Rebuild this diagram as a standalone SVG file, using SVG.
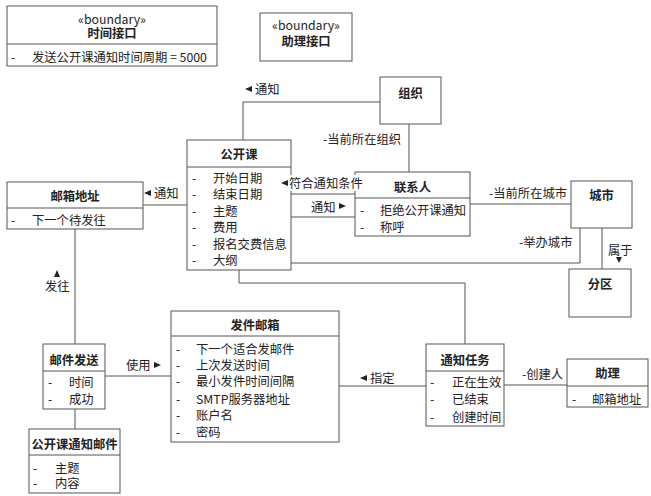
<svg xmlns="http://www.w3.org/2000/svg" width="651" height="496" viewBox="0 0 651 496">
<style>
text{font-family:"Noto Sans CJK SC","Noto Sans",sans-serif;font-size:12.3px;fill:#222}
.t{font-weight:bold;text-anchor:middle}
.c{text-anchor:middle}
.box{fill:#fff;stroke:#555;stroke-width:1}
.dv{stroke:#555;stroke-width:1}
.ln{fill:none;stroke:#555;stroke-width:1}
.ar{fill:#222}
</style>
<rect width="651" height="496" fill="#fff"/>
<g id="connectors">
<polyline class="ln" points="243,140 243,102 380,102"/>
<line class="ln" x1="409" y1="124" x2="409" y2="172"/>
<line class="ln" x1="291" y1="194" x2="356" y2="194"/>
<line class="ln" x1="291" y1="217" x2="356" y2="217"/>
<line class="ln" x1="470" y1="204" x2="571" y2="204"/>
<polyline class="ln" points="291,263 580,263 580,228"/>
<line class="ln" x1="602" y1="228" x2="602" y2="269"/>
<line class="ln" x1="143" y1="205" x2="187" y2="205"/>
<line class="ln" x1="75" y1="229" x2="75" y2="344"/>
<line class="ln" x1="105" y1="376" x2="171" y2="376"/>
<line class="ln" x1="75" y1="409" x2="75" y2="429"/>
<line class="ln" x1="339" y1="386" x2="426" y2="386"/>
<polyline class="ln" points="239,270 239,283 465,283 465,344"/>
<line class="ln" x1="504" y1="385" x2="567" y2="385"/>
</g>
<g id="n-time">
<rect class="box" x="7" y="6" width="210" height="60"/>
<line class="dv" x1="7" y1="44" x2="217" y2="44"/>
<text class="c" x="112" y="23.5">«boundary»</text>
<text class="t" x="112" y="37.5">时间接口</text>
<text x="11" y="61.5">-</text>
<text x="32" y="61.5">发送公开课通知时间周期 = 5000</text>
</g>
<g id="n-assist-if">
<rect class="box" x="260" y="13" width="92" height="48"/>
<text class="c" x="306" y="29.5">«boundary»</text>
<text class="t" x="306" y="45.5">助理接口</text>
</g>
<g id="n-org">
<rect class="box" x="380" y="77" width="61" height="47"/>
<text class="t" x="410.5" y="97.5">组织</text>
</g>
<g id="n-course">
<rect class="box" x="187" y="140" width="104" height="130"/>
<line class="dv" x1="187" y1="167" x2="291" y2="167"/>
<text class="t" x="239" y="158.5">公开课</text>
<text x="192" y="182.5">-</text><text x="213" y="182.5">开始日期</text>
<text x="192" y="199">-</text><text x="213" y="199">结束日期</text>
<text x="192" y="215.5">-</text><text x="213" y="215.5">主题</text>
<text x="192" y="232">-</text><text x="213" y="232">费用</text>
<text x="192" y="248.5">-</text><text x="213" y="248.5">报名交费信息</text>
<text x="192" y="265">-</text><text x="213" y="265">大纲</text>
</g>
<g id="n-contact">
<rect class="box" x="355" y="172" width="115" height="64"/>
<line class="dv" x1="355" y1="198" x2="470" y2="198"/>
<text class="t" x="412.5" y="191.5">联系人</text>
<text x="360" y="214.5">-</text><text x="380" y="214.5">拒绝公开课通知</text>
<text x="360" y="231.5">-</text><text x="380" y="231.5">称呼</text>
</g>
<g id="n-city">
<rect class="box" x="571" y="181" width="61" height="47"/>
<text class="t" x="601.5" y="199.5">城市</text>
</g>
<g id="n-district">
<rect class="box" x="569" y="269" width="62" height="48"/>
<text class="t" x="600" y="288.5">分区</text>
</g>
<g id="n-mailaddr">
<rect class="box" x="7" y="182" width="136" height="47"/>
<line class="dv" x1="7" y1="208" x2="143" y2="208"/>
<text class="t" x="75" y="200.5">邮箱地址</text>
<text x="11" y="224.5">-</text><text x="32" y="224.5">下一个待发往</text>
</g>
<g id="n-send">
<rect class="box" x="43" y="344" width="62" height="65"/>
<line class="dv" x1="43" y1="371" x2="105" y2="371"/>
<text class="t" x="74" y="364.5">邮件发送</text>
<text x="48" y="386.5">-</text><text x="69" y="386.5">时间</text>
<text x="48" y="403.5">-</text><text x="69" y="403.5">成功</text>
</g>
<g id="n-coursemail">
<rect class="box" x="29" y="429" width="91" height="64"/>
<line class="dv" x1="29" y1="455" x2="120" y2="455"/>
<text class="t" x="74.5" y="448.5">公开课通知邮件</text>
<text x="33" y="472.5">-</text><text x="55" y="472.5">主题</text>
<text x="33" y="487.5">-</text><text x="55" y="487.5">内容</text>
</g>
<g id="n-mailbox">
<rect class="box" x="171" y="311" width="168" height="131"/>
<line class="dv" x1="171" y1="336" x2="339" y2="336"/>
<text class="t" x="255" y="329.5">发件邮箱</text>
<text x="176" y="353.5">-</text><text x="196" y="353.5">下一个适合发邮件</text>
<text x="176" y="369.5">-</text><text x="196" y="369.5">上次发送时间</text>
<text x="176" y="385.5">-</text><text x="196" y="385.5">最小发件时间间隔</text>
<text x="176" y="403.5">-</text><text x="196" y="403.5">SMTP服务器地址</text>
<text x="176" y="419.5">-</text><text x="196" y="419.5">账户名</text>
<text x="176" y="436.5">-</text><text x="196" y="436.5">密码</text>
</g>
<g id="n-task">
<rect class="box" x="426" y="344" width="78" height="82"/>
<line class="dv" x1="426" y1="371" x2="504" y2="371"/>
<text class="t" x="465" y="364.5">通知任务</text>
<text x="430" y="386.5">-</text><text x="452" y="386.5">正在生效</text>
<text x="430" y="403.5">-</text><text x="452" y="403.5">已结束</text>
<text x="430" y="421.5">-</text><text x="452" y="421.5">创建时间</text>
</g>
<g id="n-assistant">
<rect class="box" x="567" y="359" width="81" height="48"/>
<line class="dv" x1="567" y1="386" x2="648" y2="386"/>
<text class="t" x="607.5" y="377.5">助理</text>
<text x="572" y="403.5">-</text><text x="592" y="403.5">邮箱地址</text>
</g>
<g id="labels">
<path class="ar" d="M245,89 L252,86 L252,92 Z"/>
<text x="255" y="93.5">通知</text>
<text x="323" y="143.5">-当前所在组织</text>
<rect x="280" y="175" width="85" height="16" fill="#fff"/>
<path class="ar" d="M281,183 L288,180 L288,186 Z"/>
<text x="289" y="187.5">符合通知条件</text>
<text x="311" y="211.5">通知</text>
<path class="ar" d="M346,206 L339,203 L339,209 Z"/>
<text x="489" y="197.5">-当前所在城市</text>
<text x="519" y="246.5">-举办城市</text>
<text x="608" y="255">属于</text>
<path class="ar" d="M619,263 L616,257 L622,257 Z"/>
<path class="ar" d="M144,193 L151,190 L151,196 Z"/>
<text x="154" y="197.5">通知</text>
<path class="ar" d="M57,270 L54,277 L60,277 Z"/>
<text x="45" y="290.5">发往</text>
<text x="126" y="369.5">使用</text>
<path class="ar" d="M161,365 L154,362 L154,368 Z"/>
<path class="ar" d="M360,378 L367,375 L367,381 Z"/>
<text x="370" y="382.5">指定</text>
<text x="522" y="378.5">-创建人</text>
</g>
</svg>
